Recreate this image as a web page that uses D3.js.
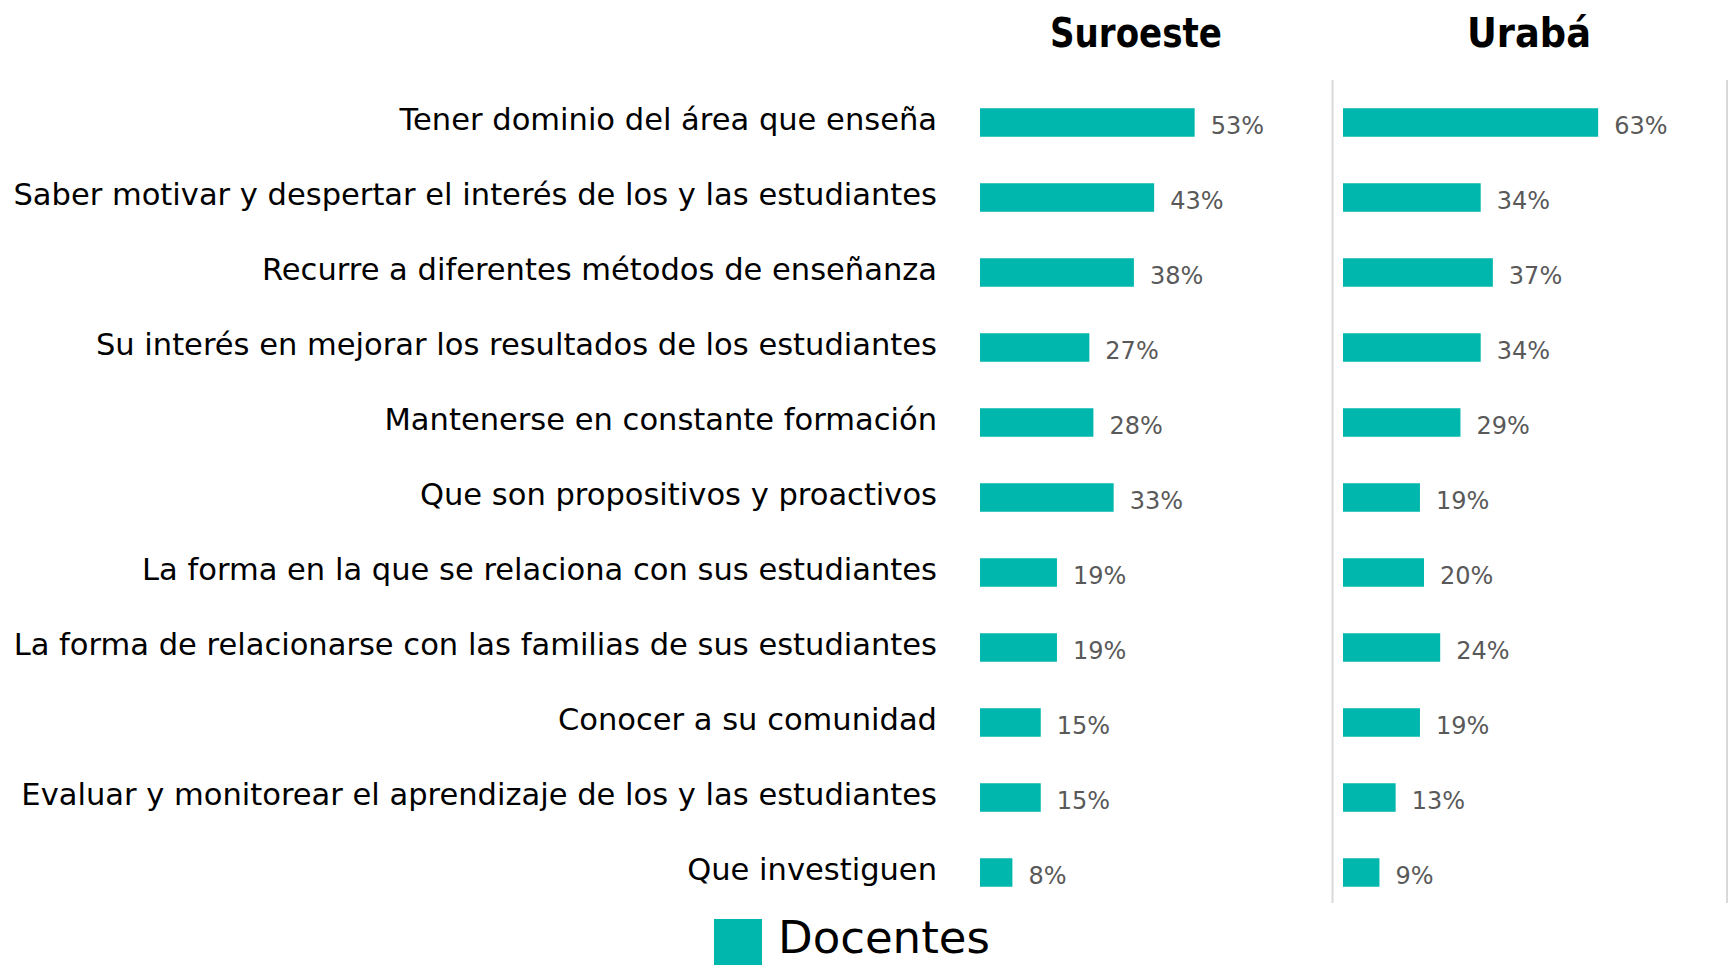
<!DOCTYPE html>
<html>
<head>
<meta charset="utf-8">
<script src="https://cdn.jsdelivr.net/npm/d3@7"></script>
<style>
  body { margin: 0; background: #fff; }
  svg { display: block; }
</style>
</head>
<body>
<svg id="chart" width="1730" height="965"></svg>
<script>
// chart data
const categories = [
    "Tener dominio del área que enseña",
    "Saber motivar y despertar el interés de los y las estudiantes",
    "Recurre a diferentes métodos de enseñanza",
    "Su interés en mejorar los resultados de los estudiantes",
    "Mantenerse en constante formación",
    "Que son propositivos y proactivos",
    "La forma en la que se relaciona con sus estudiantes",
    "La forma de relacionarse con las familias de sus estudiantes",
    "Conocer a su comunidad",
    "Evaluar y monitorear el aprendizaje de los y las estudiantes",
    "Que investiguen"
];
const regions = ["Suroeste", "Urabá"];
const suroeste = [53, 43, 38, 27, 28, 33, 19, 19, 15, 15, 8];
const uraba = [63, 34, 37, 34, 29, 19, 20, 24, 19, 13, 9];
const seriesName = "Docentes";

const svg = d3.select("#chart");
const font = "'Century Gothic', 'URW Gothic', 'DejaVu Sans', sans-serif";
const teal = "#00b7ae";

const y = d3.scaleBand()
    .domain(categories)
    .range([85, 910])
    .paddingInner(0.62)
    .paddingOuter(0.31);

const x = d3.scaleLinear().domain([0, 100]).range([0, 405]);

// panels: bar origin, title centre and title width
const panels = [
    { name: regions[0], values: suroeste, x0: 980, titleX: 1136, titleW: 172 },
    { name: regions[1], values: uraba, x0: 1343, titleX: 1529, titleW: 124 }
];

// dividers
[1332.5, 1727].forEach(xx => {
    svg.append("line")
        .attr("x1", xx).attr("x2", xx)
        .attr("y1", 80).attr("y2", 903)
        .attr("stroke", "#d9d9d9")
        .attr("stroke-width", 2);
});

// category labels, size fitted to the widest one
const labels = svg.append("g")
    .selectAll("text")
    .data(categories)
    .join("text")
    .attr("x", 937)
    .attr("y", d => y(d) + y.bandwidth() / 2 + 7)
    .attr("text-anchor", "end")
    .attr("fill", "#000")
    .style("font-family", font)
    .style("font-size", "100px")
    .text(d => d);

let widest = 0;
labels.each(function() { widest = Math.max(widest, this.getComputedTextLength()); });
const labelSize = Math.min(32, 100 * 924 / widest);
labels.style("font-size", labelSize + "px");

panels.forEach(p => {
    const g = svg.append("g").attr("transform", `translate(${p.x0},0)`);

    g.selectAll("rect")
        .data(p.values)
        .join("rect")
        .attr("x", 0)
        .attr("y", (d, i) => y(categories[i]))
        .attr("width", d => x(d))
        .attr("height", y.bandwidth())
        .attr("fill", teal);

    g.selectAll("text")
        .data(p.values)
        .join("text")
        .attr("x", d => x(d) + 16)
        .attr("y", (d, i) => y(categories[i]) + y.bandwidth() / 2 + 11)
        .attr("fill", "#595959")
        .style("font-family", font)
        .style("font-size", "24px")
        .text(d => d + "%");

    svg.append("text")
        .attr("x", p.titleX)
        .attr("y", 47)
        .attr("text-anchor", "middle")
        .attr("fill", "#000")
        .attr("textLength", p.titleW)
        .attr("lengthAdjust", "spacingAndGlyphs")
        .style("font-family", font)
        .style("font-size", "40px")
        .style("font-weight", "bold")
        .text(p.name);
});

// legend
svg.append("rect")
    .attr("x", 714).attr("y", 919)
    .attr("width", 48).attr("height", 46)
    .attr("fill", teal);

svg.append("text")
    .attr("x", 778)
    .attr("y", 953)
    .attr("fill", "#000")
    .style("font-family", font)
    .style("font-size", "45px")
    .text(seriesName);
</script>
</body>
</html>
